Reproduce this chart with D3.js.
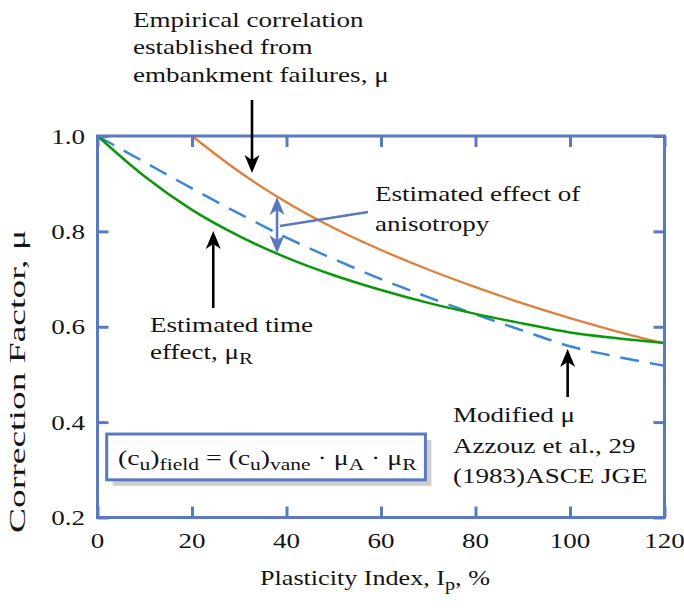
<!DOCTYPE html>
<html><head><meta charset="utf-8">
<script src="https://cdn.jsdelivr.net/npm/d3@7"></script>
<style>
body{margin:0;background:#fff}
text{font-family:"Liberation Serif","Times New Roman",serif;fill:#141414}
</style>
</head><body>
<svg id="chart" width="684" height="608"></svg>
<script>
// ---- data ----
const plasticity = [0,10,20,30,40,50,60,70,80,90,100,110,120];
const muTime     = [1.0,0.915,0.845,0.79,0.745,0.708,0.677,0.65,0.627,0.607,0.588,0.576,0.566];
const muModified = [1.0,0.945,0.89,0.837,0.787,0.742,0.70,0.662,0.626,0.592,0.559,0.537,0.518];
const plasticityEmp = [20,30,40,50,60,70,80,90,100,110,120];
const muEmpirical   = [1.0,0.925,0.861,0.807,0.761,0.720,0.683,0.649,0.618,0.590,0.565];
const xTicks = [0,20,40,60,80,100,120];
const yTicks = [0.2,0.4,0.6,0.8,1.0];
const xTickLabels = ["0","20","40","60","80","100","120"];
const yTickLabels = ["0.2","0.4","0.6","0.8","1.0"];

// ---- layout ----
const SX = 1.23;            // horizontal text stretch
const FS = 22;
const frameColor = "#5b79be";
const svg = d3.select("#chart");
const x = d3.scaleLinear().domain([0,120]).range([97.5,664.5]);
const y = d3.scaleLinear().domain([0.2,1.0]).range([517.5,136]);

function stext(parent, px, py, anchor, parts, target){
  const g = parent.append("g").attr("transform",`translate(${px},${py}) scale(${SX},1)`);
  const t = g.append("text").attr("text-anchor",anchor||"start").style("font-size",FS+"px");
  (Array.isArray(parts)?parts:[[parts]]).forEach(p=>{
    const ts = t.append("tspan").text(p[0]);
    if(p[1]==="sub"){ ts.style("font-size","17px").attr("dy",5); }
    if(p[1]==="back"){ ts.attr("dy",-5); }
  });
  if(target){
    const w = t.node().getBBox().width;
    g.attr("transform",`translate(${px},${py}) scale(${target/w},1)`);
  }
  return t;
}

// ---- curves ----
const line = d3.line().x(d=>x(d[0])).y(d=>y(d[1])).curve(d3.curveMonotoneX);
svg.append("path").datum(plasticityEmp.map((p,i)=>[p,muEmpirical[i]]))
  .attr("d",line).attr("fill","none").attr("stroke","#e07e3c").attr("stroke-width",2.3);
svg.append("path").datum(plasticity.map((p,i)=>[p,muModified[i]]))
  .attr("d",line).attr("fill","none").attr("stroke","#3b86d6").attr("stroke-width",2.5)
  .attr("stroke-dasharray","19,11");
svg.append("path").datum(plasticity.map((p,i)=>[p,muTime[i]]))
  .attr("d",line).attr("fill","none").attr("stroke","#0a980a").attr("stroke-width",2.5);

// ---- frame + inward ticks ----
const axB = svg.append("g").attr("transform",`translate(0,${y(0.2)})`)
  .call(d3.axisBottom(x).tickValues(xTicks).tickSize(-11).tickSizeOuter(0).tickFormat(""));
const axT = svg.append("g").attr("transform",`translate(0,${y(1.0)})`)
  .call(d3.axisTop(x).tickValues(xTicks).tickSize(-11).tickSizeOuter(0).tickFormat(""));
const axL = svg.append("g").attr("transform",`translate(${x(0)},0)`)
  .call(d3.axisLeft(y).tickValues(yTicks).tickSize(-11).tickSizeOuter(0).tickFormat(""));
const axR = svg.append("g").attr("transform",`translate(${x(120)},0)`)
  .call(d3.axisRight(y).tickValues(yTicks).tickSize(-11).tickSizeOuter(0).tickFormat(""));
[axB,axT,axL,axR].forEach(a=>{
  a.select(".domain").remove();
  a.selectAll(".tick line").attr("stroke",frameColor).attr("stroke-width",3);
});
svg.append("rect").attr("x",x(0)).attr("y",y(1.0)).attr("width",x(120)-x(0)).attr("height",y(0.2)-y(1.0))
  .attr("fill","none").attr("stroke",frameColor).attr("stroke-width",3);

// tick labels
xTicks.forEach((v,i)=>stext(svg, x(v), 548, "middle", xTickLabels[i]));
yTicks.forEach((v,i)=>stext(svg, 85, y(v)+7.5, "end", yTickLabels[i]));

// axis titles
stext(svg, 375, 585, "middle", [["Plasticity Index, I"],["p","sub"],[", %","back"]], 230);
svg.append("text").attr("transform","translate(25,381.5) rotate(-90)")
  .attr("text-anchor","middle").style("font-size","24px")
  .attr("textLength",303).attr("lengthAdjust","spacingAndGlyphs")
  .text("Correction Factor, μ");

// ---- arrows ----
function arrow(x1,y1,x2,y2,color){
  const ang = Math.atan2(y2-y1,x2-x1);
  const L=18, W=7.5, N=13;
  const g = svg.append("g").attr("transform",`translate(${x2},${y2}) rotate(${ang*180/Math.PI})`);
  const len = Math.hypot(x2-x1,y2-y1);
  g.append("line").attr("x1",-len).attr("y1",0).attr("x2",-N).attr("y2",0)
    .attr("stroke",color).attr("stroke-width",2.6);
  g.append("path").attr("d",`M0,0 L${-L},${-W} L${-N},0 L${-L},${W} Z`).attr("fill",color);
}
// empirical
arrow(x(32.7), y(1.0755), x(32.7), y(0.9224), "#000");
// time effect
arrow(x(24.5), y(0.6394), x(24.5), y(0.8008), "#000");
// modified
arrow(x(99.5), y(0.4527), x(99.5), y(0.5534), "#000");
// anisotropy double arrow
const anisoColor = "#5b79be";
const midMu = (0.872+0.754)/2;
arrow(x(38), y(midMu), x(38), y(0.872), anisoColor);
arrow(x(38), y(midMu), x(38), y(0.754), anisoColor);
svg.append("line").attr("x1",x(38.6)).attr("y1",y(0.8113)).attr("x2",x(57.25)).attr("y2",y(0.8406))
  .attr("stroke",anisoColor).attr("stroke-width",2.6);

// ---- annotation text ----
stext(svg,133,26.7,"start","Empirical correlation");
stext(svg,133,54,"start","established from");
stext(svg,133,81.7,"start","embankment failures, μ");

stext(svg,375,200.5,"start","Estimated effect of");
stext(svg,375,231,"start","anisotropy");

stext(svg,150,332,"start","Estimated time");
stext(svg,150,359,"start",[["effect, μ"],["R","sub"]]);

stext(svg,453,422,"start","Modified μ");
stext(svg,453,453,"start","Azzouz et al., 29");
stext(svg,453,483,"start","(1983)ASCE JGE");

// formula box
const bx0 = x(1.95), bx1 = x(69.4), by0 = y(0.375), by1 = y(0.279);
svg.append("rect").attr("x",bx0+6).attr("y",by0+6).attr("width",bx1-bx0).attr("height",by1-by0)
  .attr("fill","#cfcfcf");
svg.append("rect").attr("x",bx0).attr("y",by0).attr("width",bx1-bx0).attr("height",by1-by0)
  .attr("fill","#fff").attr("stroke",frameColor).attr("stroke-width",3);
stext(svg,118,465,"start",[["(c"],["u","sub"],[")","back"],["field","sub"],[" = (c","back"],["u","sub"],[")","back"],["vane","sub"],[" · μ","back"],["A","sub"],[" · μ","back"],["R","sub"]], 299);
</script>
</body></html>
